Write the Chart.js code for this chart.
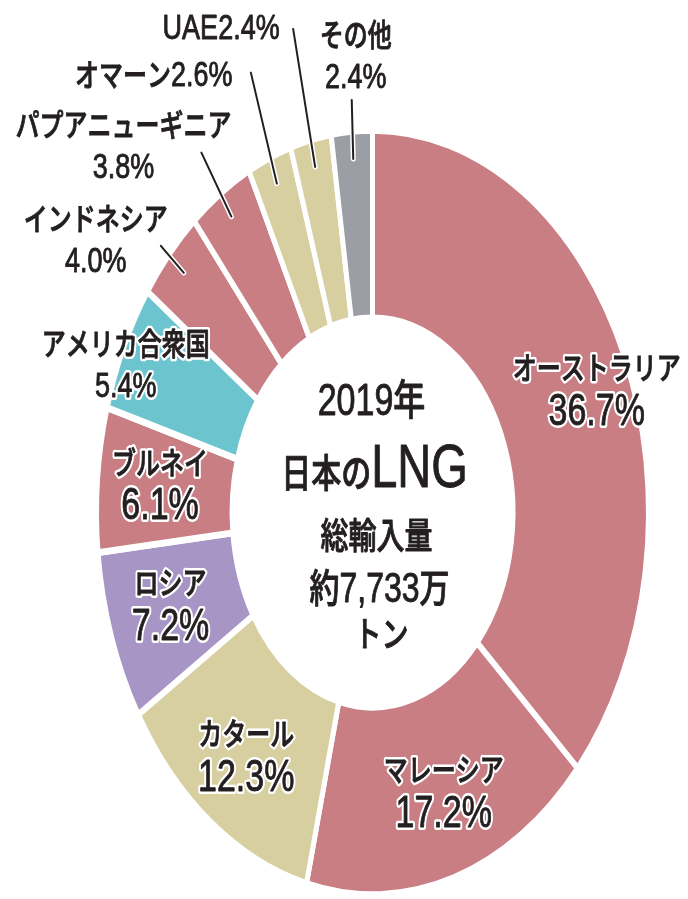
<!DOCTYPE html>
<html>
<head>
<meta charset="utf-8">
<script src="https://cdn.jsdelivr.net/npm/chart.js@4.4.1/dist/chart.umd.min.js"></script>
<style>
html, body { margin: 0; padding: 0; background: #fff; overflow: hidden; }
canvas { display: block; }
</style>
</head>
<body>
<canvas id="lng" width="688" height="899"></canvas>
<script>
// 2019年 日本のLNG輸入先 (%)
var categories = ['オーストラリア', 'マレーシア', 'カタール', 'ロシア', 'ブルネイ', 'アメリカ合衆国',
                  'インドネシア', 'パプアニューギニア', 'オマーン', 'UAE', 'その他'];
var shares = [36.7, 17.2, 12.3, 7.2, 6.1, 5.4, 4.0, 3.8, 2.6, 2.4, 2.4];
var centerLines = ['2019年', '日本のLNG', '総輸入量', '約7,733万', 'トン'];

var pink = '#c97e84', beige = '#d8cfa0';
var colors = [pink, pink, beige, '#a795c5', pink, '#6cc4cf', pink, pink, beige, beige, '#9c9ea5'];
var ink = '#231f20';
var S = 1.385;  // the ring is an ellipse, taller than wide
var TS = 1.3;   // lettering is a little tall too

// label placement against each arc: mode, shift x, shift y, leader end x, leader end y
var labelPlace = [
  ['in', 34, -7], ['in', 10, 2], ['in', -4, 8], ['in', -5, -3], ['in', -5, -5], ['in', -59, -24],
  ['out', -88, -34, -23, -27], ['out', -108, -72, -30, -64],
  ['line', -123, -111, -26, -111], ['line', -94, -141, -22, -138],
  ['out', 2.5, -104, -1.5, -59]
];
// center text: cjk size, latin size, x shift, baseline from centre
var centerStyle = [[32, 34, -1, -97.5], [30, 47, 2, -25.5], [28, 28, 4, 36.5], [30, 32, 7, 89.5], [27, 27, 9, 134.5]];

function fontOf(size) {
  return '500 ' + size + 'px "Liberation Sans", "Noto Sans CJK JP", sans-serif';
}
function runsOf(str, cjk, lat) {
  var out = [], re = /[\x20-\x7e]+|[^\x20-\x7e]+/g, m;
  while ((m = re.exec(str))) {
    out.push({ t: m[0], size: /[\x20-\x7e]/.test(m[0].charAt(0)) ? lat : cjk });
  }
  return out;
}
function drawRuns(ctx, runs, x, base, halo) {
  var w = 0;
  runs.forEach(function (r) { ctx.font = fontOf(r.size); r.w = ctx.measureText(r.t).width; w += r.w; });
  ctx.save();
  ctx.translate(x - w / 2, base);
  ctx.scale(1, TS);
  ctx.textAlign = 'left';
  ctx.textBaseline = 'alphabetic';
  ctx.lineJoin = 'round';
  var px;
  if (halo) {
    px = 0;
    ctx.strokeStyle = '#fff';
    ctx.lineWidth = 4.5;
    runs.forEach(function (r) { ctx.font = fontOf(r.size); ctx.strokeText(r.t, px, 0); px += r.w; });
  }
  px = 0;
  ctx.fillStyle = ink;
  ctx.strokeStyle = ink;
  ctx.lineWidth = 0.7;
  runs.forEach(function (r) {
    ctx.font = fontOf(r.size);
    ctx.fillText(r.t, px, 0);
    ctx.strokeText(r.t, px, 0);   // a touch heavier, like the printed type
    px += r.w;
  });
  ctx.restore();
}
function drawMid(ctx, runs, x, mid, halo) {
  var big = 0;
  runs.forEach(function (r) { big = Math.max(big, r.size); });
  drawRuns(ctx, runs, x, mid + 0.37 * big * TS, halo);
}

var ellipse = {
  id: 'ellipse',
  beforeDatasetsDraw: function (chart) {
    var ctx = chart.ctx, a = chart.chartArea, cy = (a.top + a.bottom) / 2;
    ctx.save();
    ctx.translate(0, cy);
    ctx.scale(1, S);
    ctx.translate(0, -cy);
  },
  afterDatasetsDraw: function (chart) {
    chart.ctx.restore();
  }
};

var labels = {
  id: 'labels',
  afterDraw: function (chart) {
    var ctx = chart.ctx;
    var arcs = chart.getDatasetMeta(0).data;
    function pt(el, r) {
      var a = (el.startAngle + el.endAngle) / 2;
      return { x: el.x + r * Math.cos(a), y: el.y + S * r * Math.sin(a) };
    }
    arcs.forEach(function (el, i) {
      var p = labelPlace[i], mode = p[0];
      var name = categories[i], pct = shares[i].toFixed(1) + '%';
      if (mode === 'in') {
        var c = pt(el, (el.innerRadius + el.outerRadius) / 2);
        var bx = c.x + p[1], by = c.y + p[2];
        var outer = i === 5;
        drawMid(ctx, runsOf(name, 24, 24), bx, by - 20.5, true);
        drawMid(ctx, runsOf(pct, outer ? 27 : 34, outer ? 27 : 34), bx, by + 20.5, true);
        return;
      }
      var s = pt(el, el.outerRadius - 20);
      ctx.save();
      ctx.lineCap = 'round';
      ctx.beginPath();
      ctx.moveTo(s.x, s.y);
      ctx.lineTo(s.x + p[3], s.y + p[4]);
      ctx.strokeStyle = '#fff';
      ctx.lineWidth = 5;
      ctx.stroke();
      ctx.strokeStyle = ink;
      ctx.lineWidth = 2;
      ctx.stroke();
      ctx.restore();
      var lx = s.x + p[1], ly = s.y + p[2];
      if (mode === 'line') {
        drawMid(ctx, runsOf(name + pct, 24, 27), lx, ly, true);
      } else {
        drawMid(ctx, runsOf(name, 24, 24), lx, ly - 20.5, true);
        drawMid(ctx, runsOf(pct, 27, 27), lx, ly + 20.5, true);
      }
    });
    var a0 = arcs[0];
    centerLines.forEach(function (t, k) {
      var st = centerStyle[k];
      drawRuns(ctx, runsOf(t, st[0], st[1]), a0.x + st[2], a0.y + st[3], false);
    });
  }
};

new Chart(document.getElementById('lng'), {
  type: 'doughnut',
  data: {
    labels: categories,
    datasets: [{
      data: shares,
      backgroundColor: colors,
      borderColor: '#fff',
      borderWidth: 5,
      hoverOffset: 0
    }]
  },
  options: {
    responsive: false,
    animation: false,
    events: [],
    cutout: '50.9%',
    layout: { padding: { left: 94, right: 37, top: 234, bottom: 108 } },
    plugins: {
      legend: { display: false },
      tooltip: { enabled: false }
    }
  },
  plugins: [ellipse, labels]
});
</script>
</body>
</html>
